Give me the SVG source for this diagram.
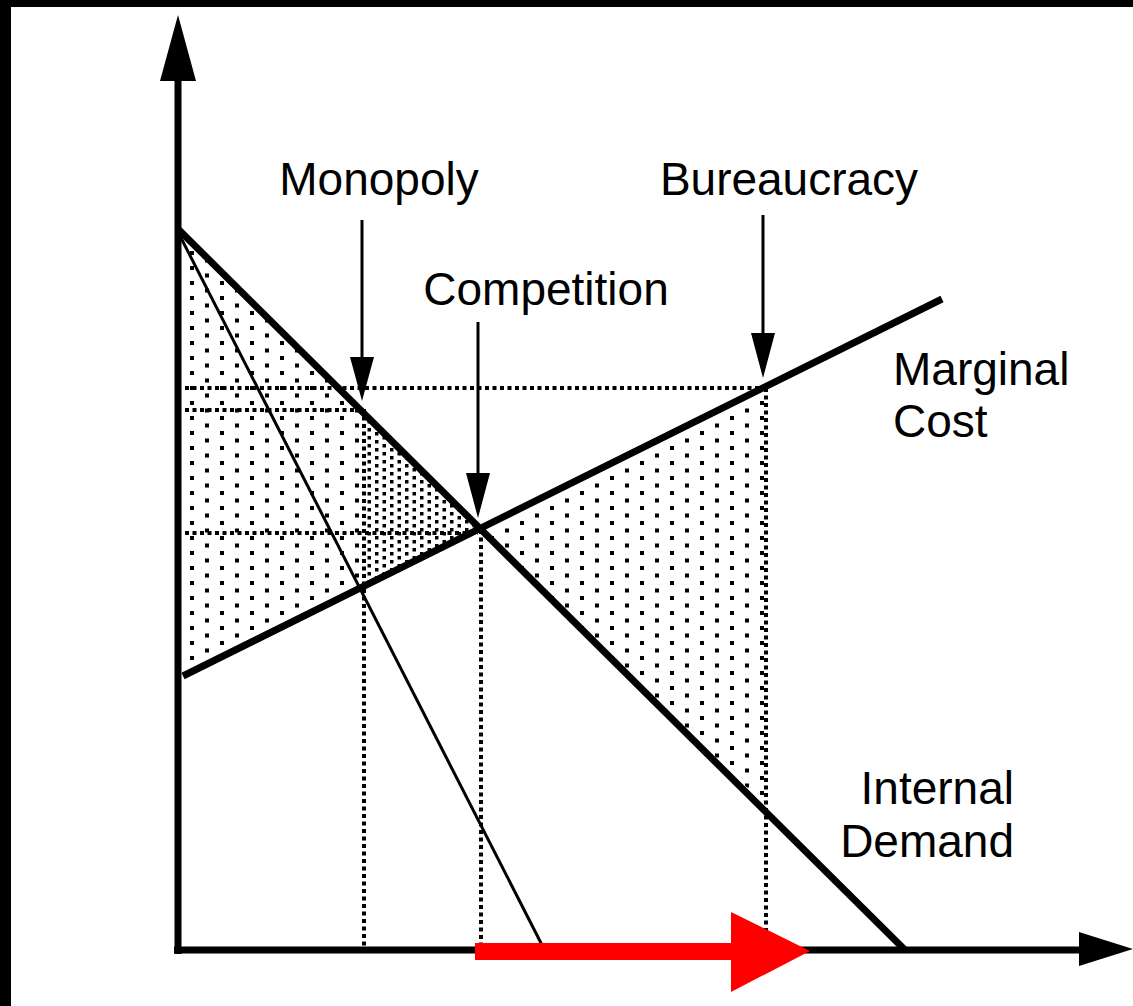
<svg xmlns="http://www.w3.org/2000/svg" width="1133" height="1006" viewBox="0 0 1133 1006">
  <style>
    .lbl { font-family: "Liberation Sans", Arial, sans-serif; font-size: 46px; fill: #000; }
    .thick { stroke: #000; stroke-width: 7; fill: none; }
    .thin { stroke: #000; stroke-width: 3; fill: none; }
    .dot { stroke: #000; stroke-width: 4; stroke-dasharray: 4 3.5; fill: none; }
  </style>
  <defs>
    <pattern id="sparse" patternUnits="userSpaceOnUse" x="0" y="0" width="30" height="15">
      <rect x="10" y="11" width="4" height="4" fill="#000"/>
      <rect x="25" y="3.5" width="4" height="4" fill="#000"/>
    </pattern>
    <pattern id="dense" patternUnits="userSpaceOnUse" x="0" y="0" width="15" height="8">
      <rect x="0" y="0" width="3.5" height="3.5" fill="#000"/>
      <rect x="7.5" y="4" width="3.5" height="3.5" fill="#000"/>
    </pattern>
  </defs>
  <rect x="0" y="0" width="1133" height="1006" fill="#fff"/>
  <rect x="0" y="0" width="11" height="1006" fill="#000"/>
  <rect x="0" y="0" width="1133" height="7" fill="#000"/>

  <g id="regions">
    <polygon points="182,234 478,527 182,674" fill="url(#sparse)"/>
    <polygon points="478,527 765,388 765,805" fill="url(#sparse)"/>
    <polygon points="364,414 476,527 364,586" fill="#fff"/>
    <polygon points="364,414 476,527 364,586" fill="url(#dense)"/>
  </g>

  <g id="guides">
    <line class="dot" x1="185" y1="388" x2="763" y2="388"/>
    <line class="dot" x1="185" y1="410" x2="362" y2="410"/>
    <line class="dot" x1="185" y1="533" x2="478" y2="533"/>
    <line class="dot" x1="364" y1="409" x2="364" y2="953"/>
    <line class="dot" x1="481" y1="530" x2="481" y2="950"/>
    <line class="dot" x1="766" y1="388" x2="766" y2="950"/>
  </g>

  <g id="axes">
    <line class="thick" x1="178" y1="78" x2="178" y2="954" stroke-width="8"/>
    <polygon points="178,15 196,81 160,81" fill="#000"/>
    <line class="thick" x1="174" y1="950" x2="1082" y2="950"/>
    <polygon points="1079,932 1133,949 1079,966" fill="#000"/>
  </g>

  <g id="curves">
    <line id="demand" class="thick" x1="178" y1="229" x2="905" y2="950"/>
    <line id="marginal-revenue" class="thin" x1="178" y1="232" x2="542" y2="945"/>
    <line id="marginal-cost" class="thick" x1="183" y1="676" x2="942" y2="299"/>
  </g>

  <g id="connectors">
    <line class="thin" x1="362" y1="220" x2="362" y2="360"/>
    <polygon points="350,357 374,357 362,401" fill="#000"/>
    <line class="thin" x1="478" y1="322" x2="478" y2="476"/>
    <polygon points="466,473 490,473 478,518" fill="#000"/>
    <line class="thin" x1="763" y1="215" x2="763" y2="336"/>
    <polygon points="751,333 775,333 763,378" fill="#000"/>
  </g>

  <g id="shift-arrow">
    <polygon points="475,943 731,943 731,912 810,951 731,992 731,960 475,960" fill="#ff0000"/>
  </g>

  <g id="label-monopoly"><text class="lbl" x="379" y="195" text-anchor="middle">Monopoly</text></g>
  <g id="label-competition"><text class="lbl" x="546" y="305" text-anchor="middle">Competition</text></g>
  <g id="label-bureaucracy"><text class="lbl" x="789" y="195" text-anchor="middle">Bureaucracy</text></g>
  <g id="label-marginal-cost">
    <text class="lbl" x="893" y="385">Marginal</text>
    <text class="lbl" x="893" y="437">Cost</text>
  </g>
  <g id="label-internal-demand">
    <text class="lbl" x="1014" y="804" text-anchor="end">Internal</text>
    <text class="lbl" x="1014" y="857" text-anchor="end">Demand</text>
  </g>
</svg>
